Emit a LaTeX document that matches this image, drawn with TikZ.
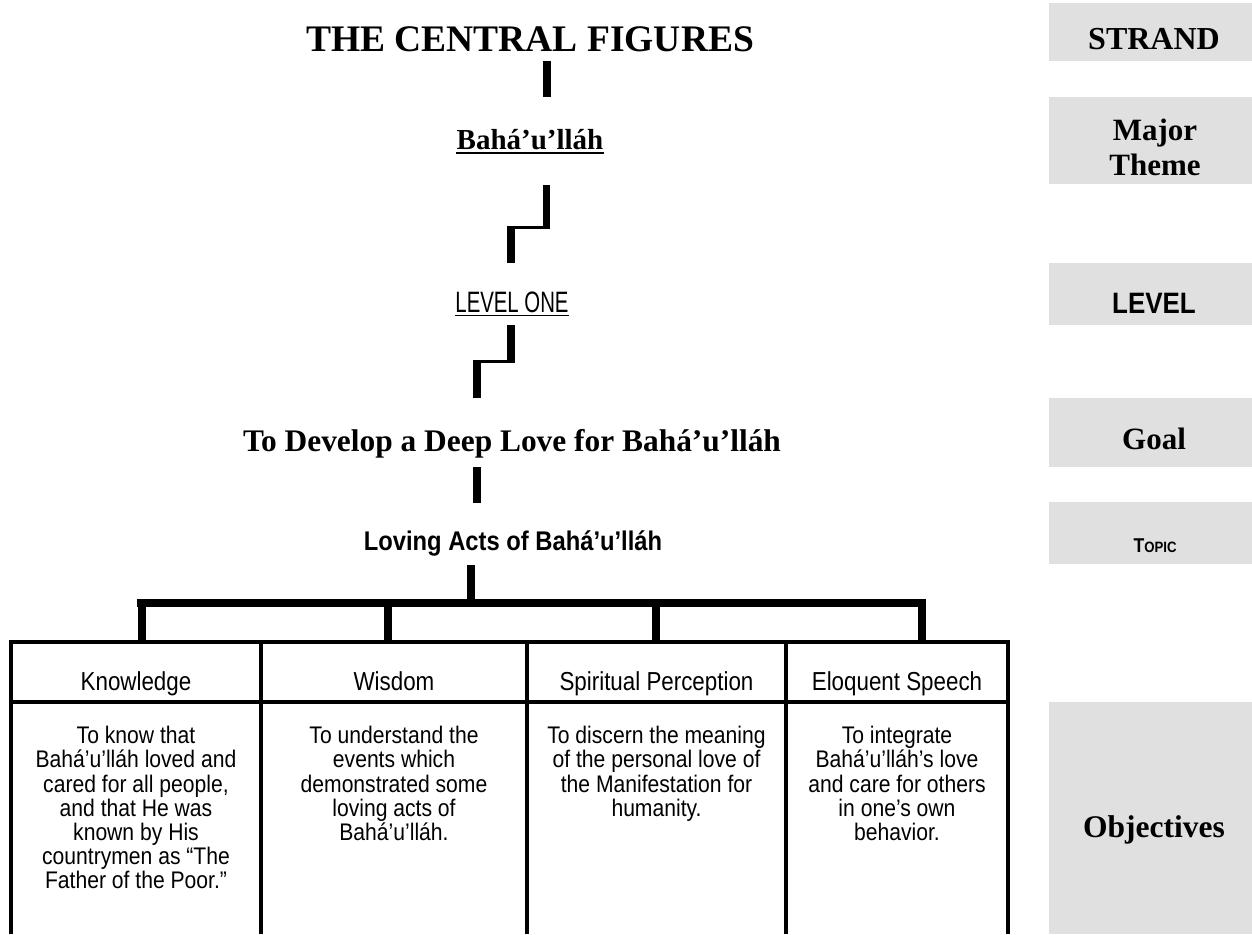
\documentclass[tikz,border=0pt]{standalone}
\usepackage{fontspec}
\setmainfont{Liberation Serif}
\newfontfamily\bodyfont[FakeStretch=0.88]{Liberation Sans}
\newfontfamily\headfont[FakeStretch=0.86]{Liberation Sans}
\newfontfamily\levfont[FakeStretch=0.69]{Liberation Sans}
\newfontfamily\boldnarrow[FakeStretch=0.88]{Liberation Sans}
\usetikzlibrary{calc}
\definecolor{boxgray}{RGB}{224,224,224}
\begin{document}
\begin{tikzpicture}[x=1pt,y=-1pt,
  bar/.style={line width=7.5pt, line cap=butt},
  hbar/.style={line width=3.5pt, line cap=butt},
  treebar/.style={line width=8pt, line cap=butt},
  grid/.style={line width=3.5pt, line cap=butt, line join=miter},
  sidebox/.style={fill=boxgray, draw=none},
  lab/.style={inner sep=0pt, anchor=base},
  serifb/.style={font=\bfseries\fontsize{#1}{#1}\selectfont},
  body/.style={inner sep=0pt, anchor=north, align=center, font=\bodyfont\fontsize{24}{24.2}\selectfont},
  head/.style={inner sep=0pt, anchor=base, font=\headfont\fontsize{26}{27}\selectfont}]
\useasboundingbox (0,0) rectangle (1252,934);
\fill[white] (0,0) rectangle (1252,934);

% ---------- right column ----------
\fill[sidebox] (1049,3) rectangle (1252,61);
\fill[sidebox] (1049,97) rectangle (1252,184);
\fill[sidebox] (1049,263) rectangle (1252,325);
\fill[sidebox] (1049,398) rectangle (1252,467);
\fill[sidebox] (1049,502) rectangle (1252,564);
\fill[sidebox] (1049,702) rectangle (1252,934);
\node[lab, serifb=32] (sStrand) at (1154,50) {STRAND};
\node[inner sep=0pt, anchor=north, align=center, font=\bfseries\fontsize{31}{35}\selectfont] (sTheme) at (1155,119) {Major\\Theme};
\node[lab, font=\boldnarrow\bfseries\fontsize{29.5}{30}\selectfont] (sLevel) at (1154,313) {LEVEL};
\node[lab, serifb=31] (sGoal) at (1154,449) {Goal};
\node[lab, font=\boldnarrow\bfseries\fontsize{20}{20}\selectfont] (sTopic) at (1155,552) {T{\fontsize{15}{15}\selectfont OPIC}};
\node[lab, serifb=31.5] (sObj) at (1154,837) {Objectives};

% ---------- hierarchy ----------
\node[lab, serifb=37.5] (title) at (530,52) {THE CENTRAL FIGURES};
\coordinate (c1a) at (547,61);
\coordinate (c1b) at (547,97);
\draw[bar] (c1a) -- (c1b);

\node[lab, serifb=29] (bah) at (530,149) {Bahá’u’lláh};
\draw[line width=1.5pt] ($(bah.base west)+(0,4)$) -- ($(bah.base east)+(0,4)$);

% stair 1
\coordinate (s1a) at (546.5,185);
\coordinate (s1b) at (546.5,229);
\coordinate (s1c) at (507,227.5);
\coordinate (s1d) at (550.25,227.5);
\coordinate (s1e) at (511,226);
\coordinate (s1f) at (511,263);
\draw[bar] (s1a) -- (s1b);
\draw[hbar] (s1c) -- (s1d);
\draw[bar] (s1e) -- (s1f);

\node[lab, font=\levfont\fontsize{29.5}{30}\selectfont] (lvl) at (512,312) {LEVEL ONE};
\draw[line width=1.5pt] ($(lvl.base west)+(0,3.5)$) -- ($(lvl.base east)+(0,3.5)$);

% stair 2
\coordinate (s2a) at (511,325);
\coordinate (s2b) at (511,363);
\coordinate (s2c) at (473,361.5);
\coordinate (s2d) at (514.75,361.5);
\coordinate (s2e) at (477,360);
\coordinate (s2f) at (477,398);
\draw[bar] (s2a) -- (s2b);
\draw[hbar] (s2c) -- (s2d);
\draw[bar] (s2e) -- (s2f);

\node[lab, serifb=31.4] (goal) at (512,451) {To Develop a Deep Love for Bahá’u’lláh};
\coordinate (c3a) at (477,467);
\coordinate (c3b) at (477,503);
\draw[bar] (c3a) -- (c3b);

\node[lab, font=\boldnarrow\bfseries\fontsize{27}{28}\selectfont] (topic) at (513,550) {Loving Acts of Bahá’u’lláh};

% tree
\coordinate (t0) at (470.5,565);
\coordinate (tj) at (470.5,603);
\coordinate (tl) at (137,603);
\coordinate (tr) at (926,603);
\draw[treebar] (t0) -- (tj);
\draw[treebar] (tl) -- (tr);

% ---------- table ----------
\draw[grid] (11,934) -- (11,642) -- (1008,642) -- (1008,934);
\draw[grid] (11,702) -- (1008,702);
\draw[grid] (261,642) -- (261,934);
\draw[grid] (527,642) -- (527,934);
\draw[grid] (786,642) -- (786,934);

\node[head] (h1) at (136,690) {Knowledge};
\node[head] (h2) at (394,690) {Wisdom};
\node[head] (h3) at (656.5,690) {Spiritual Perception};
\node[head] (h4) at (897,690) {Eloquent Speech};

\coordinate (d1) at (141.5,599);
\coordinate (d2) at (387.5,599);
\coordinate (d3) at (655.5,599);
\coordinate (d4) at (922,599);
\coordinate (e1) at (141.5,641);
\coordinate (e2) at (387.5,641);
\coordinate (e3) at (655.5,641);
\coordinate (e4) at (922,641);
\draw[treebar] (d1) -- (e1);
\draw[treebar] (d2) -- (e2);
\draw[treebar] (d3) -- (e3);
\draw[treebar] (d4) -- (e4);

\node[body] (o1) at (136,726) {To know that\\Bahá’u’lláh loved and\\cared for all people,\\and that He was\\known by His\\countrymen as “The\\Father of the Poor.”};
\node[body] (o2) at (394,726) {To understand the\\events which\\demonstrated some\\loving acts of\\Bahá’u’lláh.};
\node[body] (o3) at (656.5,726) {To discern the meaning\\of the personal love of\\the Manifestation for\\humanity.};
\node[body] (o4) at (897,726) {To integrate\\Bahá’u’lláh’s love\\and care for others\\in one’s own\\behavior.};
\end{tikzpicture}
\end{document}
